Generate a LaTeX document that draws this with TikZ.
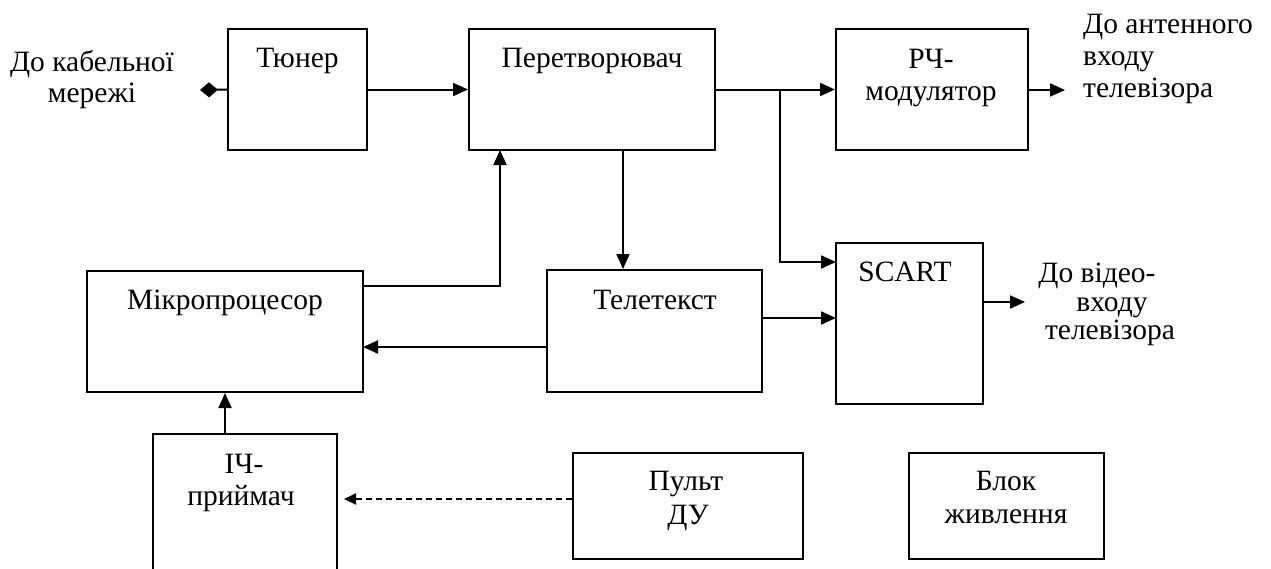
\documentclass[tikz,border=0pt]{standalone}
\usepackage{fontspec}
\setmainfont{Liberation Serif}
\usetikzlibrary{arrows.meta}
\begin{document}
\begin{tikzpicture}[x=1pt,y=-1pt,
  blk/.style={draw, line width=2pt, inner sep=0pt},
  txt/.style={font=\fontsize{29.5}{34}\selectfont, inner sep=0pt, anchor=base},
  txtl/.style={font=\fontsize{29.5}{34}\selectfont, inner sep=0pt, anchor=base west},
  ln/.style={line width=2pt},
  arr/.style={line width=2pt, -{Triangle[length=15pt,width=13pt]}},
  darr/.style={line width=2pt, dash pattern=on 6pt off 4pt, -{Triangle[length=12pt,width=11pt]}}
]
\useasboundingbox (0,0) rectangle (1271,568);
\clip (0,0) rectangle (1271,568);

% boxes
\node[blk, minimum width=139pt, minimum height=121pt] (tuner) at (297.5,89.5) {};
\node[blk, minimum width=246pt, minimum height=121pt] (conv) at (592,89.5) {};
\node[blk, minimum width=192pt, minimum height=121pt] (rf) at (932,89.5) {};
\node[blk, minimum width=276pt, minimum height=121pt] (micro) at (225,331.5) {};
\node[blk, minimum width=215pt, minimum height=122pt] (tele) at (654.5,331) {};
\node[blk, minimum width=147pt, minimum height=161pt] (scart) at (909.5,323.5) {};
\node[blk, minimum width=184pt, minimum height=142pt] (ir) at (245,505) {};
\node[blk, minimum width=230pt, minimum height=106pt] (remote) at (688,506) {};
\node[blk, minimum width=195pt, minimum height=106pt] (power) at (1006.5,506) {};

% texts
\node[txt] (cabt1) at (92,71) {До кабельної};
\node[txt] (cabt2) at (92,102) {мережі};
\node[txt] (tunert) at (297.5,67) {Тюнер};
\node[txt] (convt) at (592,67) {Перетворювач};
\node[txt] (rft1) at (931,68) {РЧ-};
\node[txt] (rft2) at (931,100) {модулятор};
\node[txtl] (antt1) at (1083,33) {До антенного};
\node[txtl] (antt2) at (1083,65) {входу};
\node[txtl] (antt3) at (1083,97) {телевізора};
\node[txt] (microt) at (225,309) {Мікропроцесор};
\node[txt] (telet) at (655,309) {Телетекст};
\node[txt] (scartt) at (905,281) {SCART};
\node[txt] (vidt1) at (1097,282) {До відео-};
\node[txt] (vidt2) at (1112,311) {входу};
\node[txt] (vidt3) at (1110,339) {телевізора};
\node[txt] (irt1) at (244,473) {ІЧ-};
\node[txt] (irt2) at (241,505) {приймач};
\node[txt] (remotet1) at (686,490) {Пульт};
\node[txt] (remotet2) at (688,524) {ДУ};
\node[txt] (powert1) at (1006,490) {Блок};
\node[txt] (powert2) at (1006,523) {живлення};

% attachment points
\coordinate (cab) at (200,90);
\coordinate (j) at (780,89.5);
\coordinate (sc1) at (836,262);
\coordinate (sc2) at (836,318);
\coordinate (cv0) at (623,150);
\coordinate (mi1) at (363,286);
\coordinate (cv1) at (500,150);
\coordinate (mi2) at (363,347);
\coordinate (irin) at (344,499);
\coordinate (ant) at (1065,90);
\coordinate (vid) at (1025,302);

% connectors
\draw[ln, {Diamond[length=18pt,width=15pt]}-] (cab) -- (tuner.west);
\draw[arr] (tuner.east) -- (conv.west);
\draw[arr] (conv.east) -- (rf.west);
\draw[arr] (j) |- (sc1);
\draw[arr] (cv0) -- (cv0 |- tele.north);
\draw[arr] (mi1) -| (cv1);
\draw[arr] (tele.west |- mi2) -- (mi2);
\draw[arr] (tele.east |- sc2) -- (sc2);
\draw[arr] (micro.south |- ir.north) -- (micro.south);
\draw[darr] (remote.west |- irin) -- (irin);
\draw[arr] (rf.east |- ant) -- (ant);
\draw[arr] (scart.east |- vid) -- (vid);
\end{tikzpicture}
\end{document}
